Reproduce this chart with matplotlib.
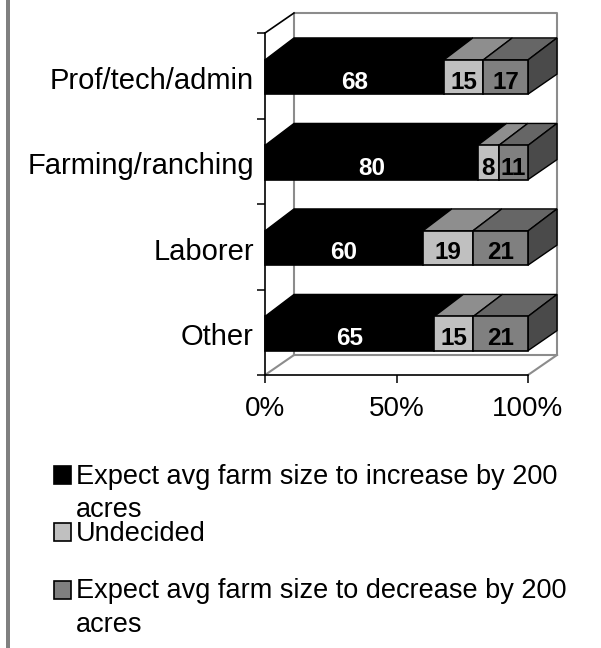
import matplotlib
matplotlib.use("Agg")
import matplotlib.pyplot as plt
from matplotlib.patches import Polygon, Rectangle
import numpy as np

plt.rcParams['font.family'] = ['Liberation Sans', 'DejaVu Sans']

categories = ["Prof/tech/admin", "Farming/ranching", "Laborer", "Other"]
increase = [68, 80, 60, 65]
undecided = [15, 8, 19, 15]
decrease = [17, 11, 21, 21]
xticks = [0, 50, 100]
xticklabels = ["0%", "50%", "100%"]
legend_labels = ["Expect avg farm size to increase by 200\nacres", "Undecided",
                 "Expect avg farm size to decrease by 200\nacres"]

W, H = 601, 648
fig = plt.figure(figsize=(W / 100, H / 100), dpi=100, facecolor="white")
L, R, T, B = 265, 528, 33, 375
ax = fig.add_axes([L / W, 1 - B / H, (R - L) / W, (B - T) / H])
ax.set_xlim(0, 100)
ax.set_ylim(4, 0)
ax.patch.set_visible(False)

DX = 29 / (R - L) * 100
DY = 20 / (B - T) * 4
BAR_DY = 22 / (B - T) * 4
GRID = "#8c8c8c"


def line(xs, ys, color, lw=1.5, z=1):
    ax.plot(xs, ys, color=color, lw=lw, zorder=z, clip_on=False, solid_capstyle="projecting")


# back wall and floor
line([DX, DX, 100 + DX, 100 + DX, DX], [4 - DY, -DY, -DY, 4 - DY, 4 - DY], GRID)
line([0, DX], [4, 4 - DY], GRID)
line([100, 100 + DX], [4, 4 - DY], GRID)
line([0, DX], [0, -DY], "black", 1.2)

front = ["black", "#c0c0c0", "#808080"]
top = ["black", "#8e8e8e", "#666666"]
side = "#4a4a4a"
bar_h = 0.40
text_dy = [0.065, 0.065, 0.05, 0.055]

for i, vals in enumerate(zip(increase, undecided, decrease)):
    total = sum(vals)
    yc = i + 0.515
    y0, y1 = yc - bar_h / 2, yc + bar_h / 2
    left = 0.0
    for j, v in enumerate(vals):
        w = v / total * 100
        ax.add_patch(Polygon([(left, y0), (left + DX, y0 - BAR_DY), (left + w + DX, y0 - BAR_DY), (left + w, y0)],
                             closed=True, fc=top[j], ec="black", lw=1.0, zorder=3, clip_on=False))
        ax.add_patch(Rectangle((left, y0), w, bar_h, fc=front[j], ec="black", lw=1.2, zorder=4, clip_on=False))
        ax.text(left + w / 2, yc + text_dy[i], str(v), ha="center", va="center", fontsize=17.5,
                fontweight="bold", color="white" if j == 0 else "black", zorder=6)
        left += w
    ax.add_patch(Polygon([(100, y0), (100 + DX, y0 - BAR_DY), (100 + DX, y1 - DY), (100, y1)],
                         closed=True, fc=side, ec="black", lw=1.0, zorder=3, clip_on=False))

for s in ["top", "right"]:
    ax.spines[s].set_visible(False)
for s in ["left", "bottom"]:
    ax.spines[s].set_linewidth(1.2)
    ax.spines[s].set_zorder(5)

ax.set_xticks(xticks)
ax.set_xticklabels(xticklabels, fontsize=20)
ax.tick_params(axis="x", length=5.8, width=1.1, pad=9)
ax.set_yticks(range(5))
ax.set_yticklabels([])
ax.tick_params(axis="y", which="major", length=5.8, width=1.1)
ax.set_yticks(np.arange(4) + 0.525, minor=True)
ax.set_yticklabels(categories, minor=True, fontsize=21)
ax.tick_params(axis="y", which="minor", length=0, pad=8)

# page rule on the left
fig.add_artist(Rectangle((6 / W, 0), 4 / W, 1, transform=fig.transFigure, fc="#808080", ec="none"))


def px(x, y):
    return x / W, 1 - y / H


# legend
swatches = ["black", "#c0c0c0", "#808080"]
sw_top = [466, 523, 581]
txt_base = [483.5, 541, 598.5]
for lab, c, st, b in zip(legend_labels, swatches, sw_top, txt_base):
    x, y = px(53.5, st + 17.5)
    fig.add_artist(Rectangle((x, y), 17.5 / W, 17.5 / H, transform=fig.transFigure,
                             fc=c, ec="black", lw=1.2))
    lines = lab.split("\n")
    for k, t in enumerate(lines):
        tx, ty = px(76, b + k * 33.5)
        fig.text(tx, ty, t, fontsize=19.55, ha="left", va="baseline", color="black")

fig.savefig("out.png", dpi=100, facecolor="white")
